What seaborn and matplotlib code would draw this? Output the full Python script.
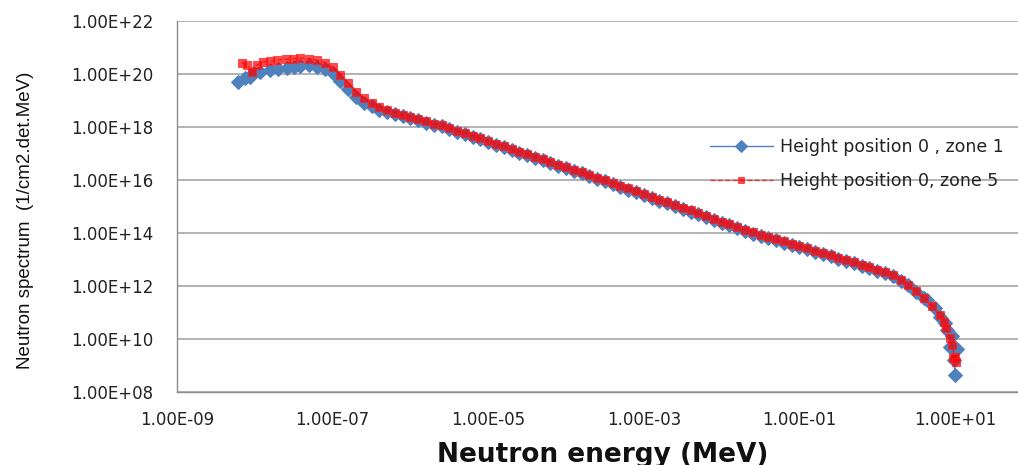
import numpy as np
import pandas as pd
import matplotlib
matplotlib.use("Agg")
import matplotlib.pyplot as plt
from matplotlib.ticker import FixedLocator, FuncFormatter, NullLocator
import seaborn as sns

# Values, stored as log10 exponents
# zone 1 (blue diamonds)
zone1_log_energy = [
    -8.22, -8.13, -8.06, -8.02, -7.93, -7.80, -7.70, -7.59, -7.50, -7.42,
    -7.30, -7.20, -7.10, -7.00, -6.90, -6.80, -6.70, -6.60, -6.50, -6.40,
    -6.30, -6.20, -6.10, -6.00, -5.90, -5.80, -5.70, -5.60, -5.50, -5.40,
    -5.30, -5.20, -5.10, -5.00, -4.90, -4.80, -4.70, -4.60, -4.50, -4.40,
    -4.30, -4.20, -4.10, -4.00, -3.90, -3.80, -3.70, -3.60, -3.50, -3.40,
    -3.30, -3.20, -3.10, -3.00, -2.90, -2.80, -2.70, -2.60, -2.50, -2.40,
    -2.30, -2.20, -2.10, -2.00, -1.90, -1.80, -1.70, -1.60, -1.50, -1.40,
    -1.30, -1.20, -1.10, -1.00, -0.90, -0.80, -0.70, -0.60, -0.50, -0.40,
    -0.30, -0.20, -0.10, 0.00, 0.10, 0.20, 0.30, 0.40, 0.50, 0.60,
    0.64, 0.74, 0.81, 0.87, 0.90, 0.96, 1.03, 0.94, 1.03, 0.99, 1.03, 1.00,
]
zone1_log_flux = [
    19.70, 19.85, 19.89, 20.04, 20.08, 20.15, 20.20, 20.23, 20.28, 20.32,
    20.33, 20.28, 20.18, 20.02, 19.72, 19.42, 19.12, 18.92, 18.78, 18.66,
    18.57, 18.49, 18.41, 18.33, 18.25, 18.17, 18.09, 18.02, 17.92, 17.82,
    17.72, 17.63, 17.53, 17.43, 17.33, 17.23, 17.13, 17.03, 16.94, 16.84,
    16.74, 16.64, 16.54, 16.44, 16.34, 16.25, 16.15, 16.05, 15.95, 15.84,
    15.74, 15.64, 15.53, 15.43, 15.33, 15.22, 15.12, 15.02, 14.91, 14.81,
    14.70, 14.60, 14.50, 14.39, 14.29, 14.19, 14.08, 13.98, 13.90, 13.81,
    13.72, 13.64, 13.55, 13.46, 13.38, 13.29, 13.21, 13.12, 13.03, 12.95,
    12.86, 12.77, 12.68, 12.58, 12.48, 12.38, 12.20, 12.02, 11.76, 11.53,
    11.47, 11.17, 10.83, 10.60, 10.34, 10.11, 9.96, 9.70, 9.47, 9.21, 8.94, 8.64,
]

# zone 5 (red squares)
zone5_log_energy = [
    -8.17, -8.10, -8.04, -7.97, -7.90, -7.80, -7.72, -7.60, -7.51, -7.42,
    -7.30, -7.20, -7.10, -7.00, -6.90, -6.80, -6.70, -6.60, -6.50, -6.40,
    -6.30, -6.20, -6.10, -6.00, -5.90, -5.80, -5.70, -5.60, -5.50, -5.40,
    -5.30, -5.20, -5.10, -5.00, -4.90, -4.80, -4.70, -4.60, -4.50, -4.40,
    -4.30, -4.20, -4.10, -4.00, -3.90, -3.80, -3.70, -3.60, -3.50, -3.40,
    -3.30, -3.20, -3.10, -3.00, -2.90, -2.80, -2.70, -2.60, -2.50, -2.40,
    -2.30, -2.20, -2.10, -2.00, -1.90, -1.80, -1.70, -1.60, -1.50, -1.40,
    -1.30, -1.20, -1.10, -1.00, -0.90, -0.80, -0.70, -0.60, -0.50, -0.40,
    -0.30, -0.20, -0.10, 0.00, 0.10, 0.20, 0.30, 0.40, 0.50, 0.60,
    0.70, 0.81, 0.86, 0.88, 0.94, 0.96, 1.00, 0.97, 1.01, 1.00,
]
zone5_log_flux = [
    20.42, 20.34, 20.08, 20.34, 20.45, 20.48, 20.53, 20.56, 20.58, 20.60,
    20.58, 20.52, 20.42, 20.26, 19.98, 19.66, 19.33, 19.08, 18.90, 18.75,
    18.63, 18.54, 18.46, 18.38, 18.29, 18.21, 18.13, 18.06, 17.96, 17.86,
    17.76, 17.67, 17.57, 17.47, 17.37, 17.27, 17.17, 17.07, 16.98, 16.88,
    16.78, 16.68, 16.58, 16.48, 16.38, 16.29, 16.19, 16.09, 15.99, 15.88,
    15.78, 15.68, 15.57, 15.47, 15.37, 15.26, 15.16, 15.06, 14.95, 14.85,
    14.74, 14.64, 14.54, 14.43, 14.33, 14.23, 14.12, 14.02, 13.94, 13.85,
    13.76, 13.68, 13.59, 13.50, 13.42, 13.33, 13.25, 13.16, 13.07, 12.99,
    12.90, 12.81, 12.72, 12.62, 12.52, 12.42, 12.24, 12.05, 11.80, 11.56,
    11.25, 10.91, 10.64, 10.42, 10.04, 9.77, 9.51, 9.28, 9.13, 8.91,
]

labels = ["Height position 0 , zone 1", "Height position 0, zone 5"]
x_ticks = [1e-9, 1e-7, 1e-5, 1e-3, 1e-1, 1e1]
y_ticks = [1e8, 1e10, 1e12, 1e14, 1e16, 1e18, 1e20, 1e22]

zone1 = pd.DataFrame({"energy": np.power(10.0, zone1_log_energy),
                      "flux": np.power(10.0, zone1_log_flux)})
zone5 = pd.DataFrame({"energy": np.power(10.0, zone5_log_energy),
                      "flux": np.power(10.0, zone5_log_flux)})

sns.set_style("white")
plt.rcParams["font.family"] = ["DejaVu Sans"]

fig = plt.figure(figsize=(10.18, 4.65), dpi=100)
# plot area runs past the right edge, as in the cropped original
ax = fig.add_axes([0.1739, 0.157, 0.9171, 0.7978])

sns.lineplot(data=zone1, x="energy", y="flux", ax=ax, sort=False,
             color="#4F81BD", lw=1, marker="D", markersize=7.5,
             markeredgecolor="#4F81BD", label=labels[0])
sns.lineplot(data=zone5, x="energy", y="flux", ax=ax, sort=False,
             color="#FF0000", lw=1, linestyle="--", marker="s", markersize=6,
             markeredgecolor="#FF2020", alpha=0.7, label=labels[1])

ax.set_xscale("log")
ax.set_yscale("log")
ax.set_xlim(1e-9, 1e3)
ax.set_ylim(1e8, 1e22)

fmt = FuncFormatter(lambda v, p: f"{v:.2E}")
ax.xaxis.set_major_locator(FixedLocator(x_ticks))
ax.yaxis.set_major_locator(FixedLocator(y_ticks))
ax.xaxis.set_minor_locator(NullLocator())
ax.yaxis.set_minor_locator(NullLocator())
ax.xaxis.set_major_formatter(fmt)
ax.yaxis.set_major_formatter(fmt)
ax.tick_params(axis="x", length=0, pad=14, labelsize=12, labelcolor="#222222")
ax.tick_params(axis="y", length=0, pad=17, labelsize=12, labelcolor="#222222")

ax.grid(axis="y", color="#A6A6A6", lw=1.2)
ax.grid(axis="x", visible=False)
for side in ["top", "right"]:
    ax.spines[side].set_visible(False)
for side in ["left", "bottom"]:
    ax.spines[side].set_color("#8C8C8C")
    ax.spines[side].set_linewidth(1)
ax.set_xlabel("")
ax.set_ylabel("")

leg = ax.legend(loc="upper left", bbox_to_anchor=(0.6975, 0.704),
                bbox_transform=fig.transFigure, frameon=False, borderpad=0,
                borderaxespad=0, handlelength=3.6, handletextpad=0.45,
                labelspacing=0.95, prop={"family": "DejaVu Sans", "size": 12.5})
for t in leg.get_texts():
    t.set_color("#222222")
# small markers in the legend keys
leg.legend_handles[0].set_markersize(6)
leg.legend_handles[1].set_markersize(4.5)

fig.text(0.592, 0.0065, "Neutron energy (MeV)", ha="center", va="baseline",
         fontsize=19, fontweight="bold", family="DejaVu Sans", color="#111111")
fig.text(0.0246, 0.527, "Neutron spectrum  (1/cm2.det.MeV)", rotation=90,
         ha="center", va="center", fontsize=13.5,
         family=["Liberation Sans", "DejaVu Sans"], color="#111111")

fig.savefig("out.png", dpi=100)
